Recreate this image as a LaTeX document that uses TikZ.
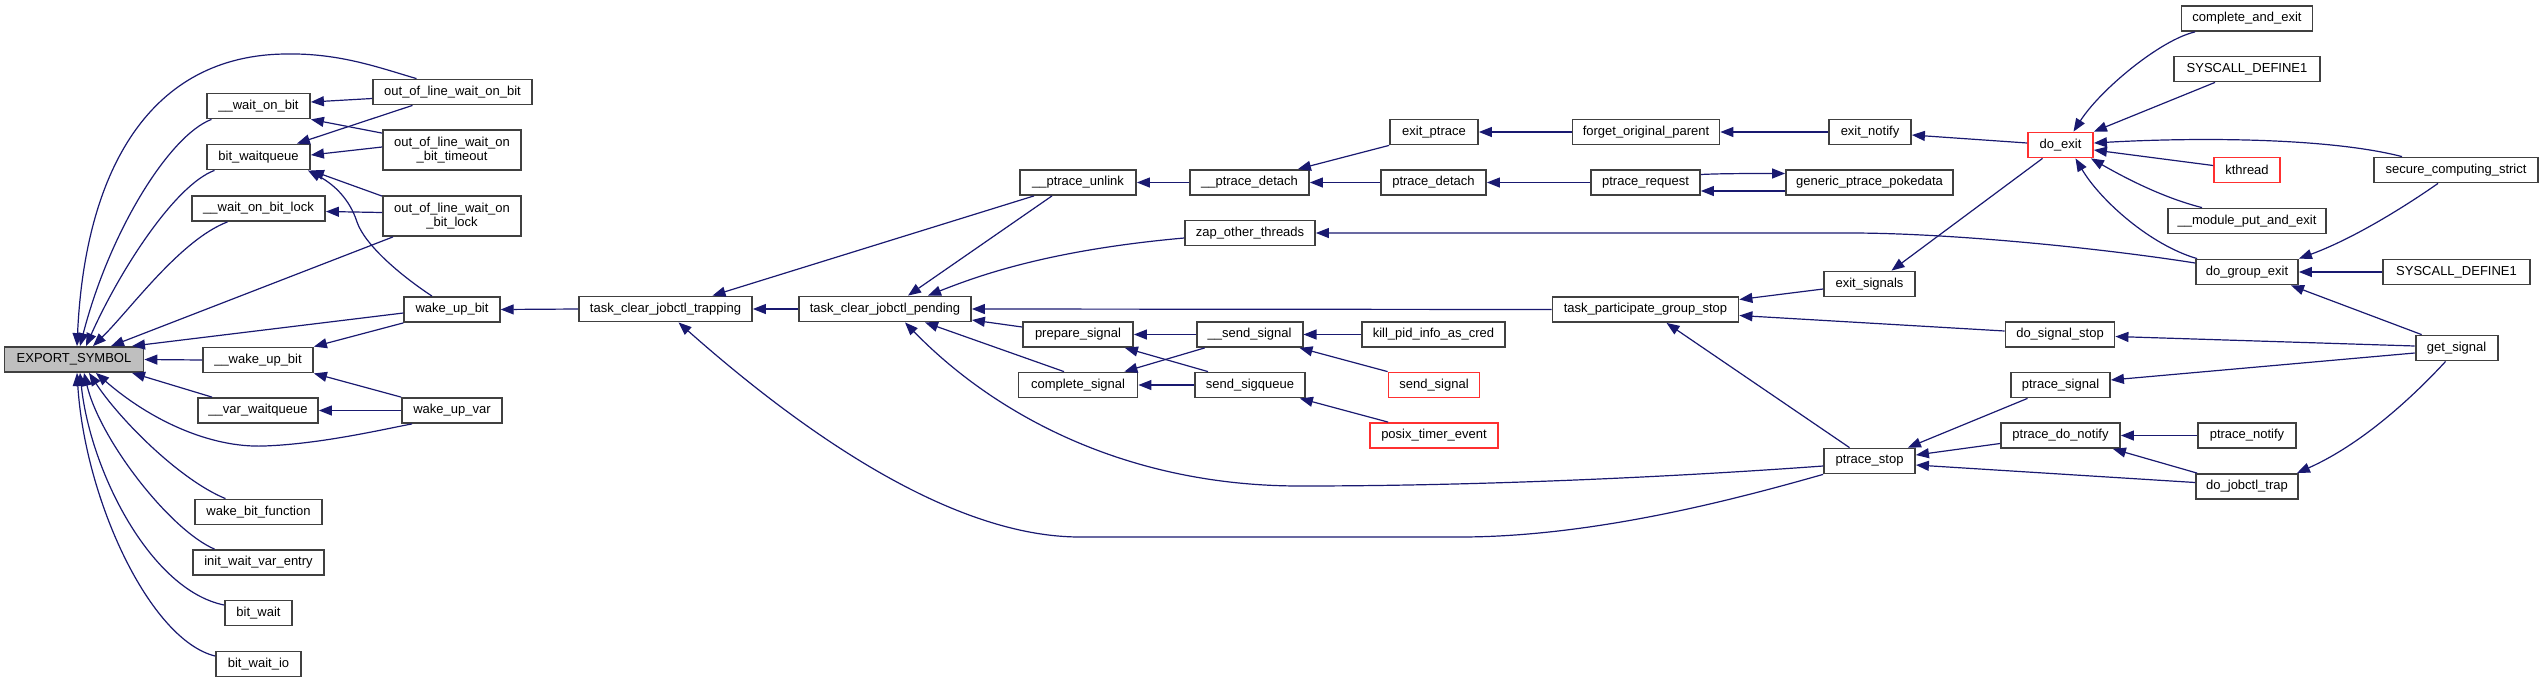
\documentclass[tikz,border=0pt]{standalone}
\usepackage{fontspec}
\setmainfont{Liberation Sans}
\usetikzlibrary{arrows.meta}
\definecolor{edgec}{HTML}{191970}
\definecolor{boxc}{HTML}{404040}
\definecolor{redc}{HTML}{FF3030}
\definecolor{graybox}{HTML}{BFBFBF}
\tikzset{
  box/.style={draw=boxc, line width=1.8pt, fill=white, rectangle, inner sep=0pt,
    minimum height=25pt, font=\fontsize{13pt}{14.5pt}\selectfont, align=center},
  redbox/.style={box, draw=redc},
  edge/.style={draw=edgec, line width=1.2pt, {Triangle[length=13pt,width=10pt]}-},
}
\begin{document}
\begin{tikzpicture}[x=1pt,y=-1pt]
\useasboundingbox (0,0) rectangle (2544,683);
% column 1
\node[box, fill=graybox, minimum width=139pt] (es) at (74,359.5) {EXPORT\_SYMBOL};
% column 2
\node[box, minimum width=103pt] (wob) at (258.5,106) {\_\_wait\_on\_bit};
\node[box, minimum width=103pt] (bwq) at (258.5,157) {bit\_waitqueue};
\node[box, minimum width=133pt] (wobl) at (258.5,208.5) {\_\_wait\_on\_bit\_lock};
\node[box, minimum width=110pt] (wuba) at (258,360) {\_\_wake\_up\_bit};
\node[box, minimum width=120pt] (vwq) at (258,410.5) {\_\_var\_waitqueue};
\node[box, minimum width=127pt] (wbf) at (258.5,512) {wake\_bit\_function};
\node[box, minimum width=131pt] (iwve) at (258.5,562.5) {init\_wait\_var\_entry};
\node[box, minimum width=67pt] (bw) at (258.5,613) {bit\_wait};
\node[box, minimum width=85pt] (bwio) at (258.5,664) {bit\_wait\_io};
% column 3
\node[box, minimum width=159pt] (oob) at (452.5,92) {out\_of\_line\_wait\_on\_bit};
\node[box, minimum width=138pt, minimum height=40pt] (oot) at (452,150) {out\_of\_line\_wait\_on\\\_bit\_timeout};
\node[box, minimum width=138pt, minimum height=40pt] (ool) at (452,216) {out\_of\_line\_wait\_on\\\_bit\_lock};
\node[box, minimum width=95.5pt] (wub) at (452,309.5) {wake\_up\_bit};
\node[box, minimum width=100pt] (wuv) at (452,410.5) {wake\_up\_var};
% column 4-5
\node[box, minimum width=173pt] (tcjt) at (665.5,309) {task\_clear\_jobctl\_trapping};
\node[box, minimum width=172pt] (tcjp) at (885,309) {task\_clear\_jobctl\_pending};
% column 6
\node[box, minimum width=116pt] (pun) at (1078,182.5) {\_\_ptrace\_unlink};
\node[box, minimum width=110pt] (ps) at (1078,334.5) {prepare\_signal};
\node[box, minimum width=119pt] (cs) at (1078,385) {complete\_signal};
% column 7
\node[box, minimum width=119pt] (pdt) at (1249.5,182.5) {\_\_ptrace\_detach};
\node[box, minimum width=130pt] (zot) at (1250,233) {zap\_other\_threads};
\node[box, minimum width=106pt] (ss) at (1249.6,334.5) {\_\_send\_signal};
\node[box, minimum width=110pt] (ssq) at (1250,385) {send\_sigqueue};
% column 8
\node[box, minimum width=88pt] (ept) at (1434,132) {exit\_ptrace};
\node[box, minimum width=105pt] (pd) at (1433.5,182.5) {ptrace\_detach};
\node[box, minimum width=143pt] (kpi) at (1433.5,334.5) {kill\_pid\_info\_as\_cred};
\node[redbox, minimum width=91pt] (snd) at (1434,385) {send\_signal};
\node[redbox, minimum width=128pt] (pte) at (1434,435.5) {posix\_timer\_event};
% column 9
\node[box, minimum width=147pt] (fop) at (1646,132) {forget\_original\_parent};
\node[box, minimum width=109pt] (pr) at (1645.5,182.5) {ptrace\_request};
\node[box, minimum width=186pt] (tpgs) at (1645.5,309.5) {task\_participate\_group\_stop};
% column 10
\node[box, minimum width=82pt] (en) at (1870,132) {exit\_notify};
\node[box, minimum width=167pt] (gpp) at (1869.5,182.5) {generic\_ptrace\_pokedata};
\node[box, minimum width=91pt] (es2) at (1869.5,284) {exit\_signals};
\node[box, minimum width=91pt] (pst) at (1869.5,461) {ptrace\_stop};
% column 11
\node[redbox, minimum width=65pt] (de) at (2060.5,145) {do\_exit};
\node[box, minimum width=109pt] (dss) at (2060,334.5) {do\_signal\_stop};
\node[box, minimum width=99pt] (psg) at (2060.5,385) {ptrace\_signal};
\node[box, minimum width=119pt] (pdn) at (2060.5,435.5) {ptrace\_do\_notify};
% column 12
\node[box, minimum width=131pt] (cae) at (2247,18.5) {complete\_and\_exit};
\node[box, minimum width=146pt] (sd1) at (2247,69) {SYSCALL\_DEFINE1};
\node[redbox, minimum width=66pt] (kt) at (2247,170) {kthread};
\node[box, minimum width=158pt] (mpe) at (2247,221) {\_\_module\_put\_and\_exit};
\node[box, minimum width=102pt] (dge) at (2247,272) {do\_group\_exit};
\node[box, minimum width=97.5pt] (pn) at (2247,435.5) {ptrace\_notify};
\node[box, minimum width=102pt] (djt) at (2247,486.5) {do\_jobctl\_trap};
% column 13
\node[box, minimum width=164pt] (scs) at (2456,170) {secure\_computing\_strict};
\node[box, minimum width=147pt] (sd2) at (2456.5,272) {SYSCALL\_DEFINE1};
\node[box, minimum width=82pt] (gs) at (2456.6,348) {get\_signal};

% ---- edges into EXPORT_SYMBOL
\draw[edge] ([xshift=3pt]es.north) .. controls (85,170) and (150,55) .. (286,54) .. controls (340,53) and (380,68) .. ([xshift=-36pt]oob.north);
\draw[edge] ([xshift=6pt]es.north) .. controls (110,230) and (170,135) .. ([xshift=-47pt]wob.south);
\draw[edge] ([xshift=12pt]es.north) .. controls (120,270) and (175,185) .. ([xshift=-44pt]bwq.south);
\draw[edge] ([xshift=19pt]es.north) .. controls (130,310) and (180,240) .. ([xshift=-31pt]wobl.south);
\draw[edge] ([xshift=37pt]es.north) -- ([xshift=-59pt]ool.south);
\draw[edge] ([xshift=58pt]es.north) -- ([yshift=-3.5pt]wub.west);
\draw[edge] (es.east) -- (wuba.west);
\draw[edge] ([xshift=58pt]es.south) -- ([xshift=-46pt]vwq.north);
\draw[edge] ([xshift=22pt]es.south) .. controls (150,420) and (210,448) .. (264,446) .. controls (320,444) and (380,430) .. ([xshift=-40pt]wuv.south);
\draw[edge] ([xshift=15pt]es.south) .. controls (120,420) and (180,480) .. ([xshift=-33pt]wbf.north);
\draw[edge] ([xshift=10pt]es.south) .. controls (100,440) and (170,530) .. ([xshift=-44pt]iwve.north);
\draw[edge] ([xshift=6pt]es.south) .. controls (90,470) and (150,590) .. ([yshift=8pt]bw.west);
\draw[edge] ([xshift=3pt]es.south) .. controls (85,500) and (150,640) .. ([yshift=8pt]bwio.west);

% ---- column 2 <- column 3
\draw[edge] ([yshift=4pt]wob.east) -- ([yshift=-6.5pt]oob.west);
\draw[edge] (wob.south east) -- ([yshift=-4pt]oot.north west);
\draw[edge] ([xshift=-14pt]bwq.north east) -- ([xshift=-40pt]oob.south);
\draw[edge] ([yshift=2pt]bwq.east) -- ([yshift=3pt]oot.west);
\draw[edge] (bwq.south east) -- ([yshift=-1pt]ool.north west);
\draw[edge] ([xshift=-3pt]bwq.south east) .. controls (335,185) and (350,200) .. (357,222) .. controls (365,245) and (400,275) .. ([xshift=-20pt]wub.north);
\draw[edge] ([yshift=-3pt]wobl.east) -- ([yshift=3.5pt]ool.west);
\draw[edge] (wuba.north east) -- (wub.south west);
\draw[edge] (wuba.south east) -- (wuv.north west);
\draw[edge] (vwq.east) -- (wuv.west);

% ---- wake_up_bit chain
\draw[edge] (wub.east) -- (tcjt.west);
\draw[edge] (tcjt.east) -- (tcjp.west);
\draw[edge] ([xshift=47pt]tcjt.north) -- ([xshift=-44pt]pun.south);
\draw[edge] ([xshift=13pt]tcjt.south) .. controls (800,430) and (950,537) .. (1080,537) -- (1460,537) .. controls (1600,537) and (1750,495) .. (pst.south west);
\draw[edge] ([xshift=23pt]tcjp.north) -- ([xshift=-26pt]pun.south);
\draw[edge] ([xshift=43pt]tcjp.north) .. controls (980,275) and (1050,250) .. ([yshift=-5pt]zot.west);
\draw[edge] (tcjp.east) -- (tpgs.west);
\draw[edge] ([yshift=-11pt]tcjp.east) -- ([yshift=7.5pt]ps.west);
\draw[edge] ([xshift=40pt]tcjp.south) -- ([xshift=-14pt]cs.north);
\draw[edge] ([xshift=20pt]tcjp.south) .. controls (990,410) and (1120,486) .. (1300,486) .. controls (1500,486) and (1700,475) .. ([yshift=-5pt]pst.west);

% ---- ptrace chain
\draw[edge] (pun.east) -- (pdt.west);
\draw[edge] ([xshift=-12pt]pdt.north east) -- (ept.south west);
\draw[edge] (pdt.east) -- (pd.west);
\draw[edge] (ept.east) -- (fop.west);
\draw[edge] (pd.east) -- (pr.west);
\draw[edge] (fop.east) -- (en.west);
\draw[edge] ([yshift=-3pt]en.east) -- ([yshift=2pt]de.west);
\draw[edge] ([yshift=9pt]gpp.west) .. controls (1750,173.5) and (1720,173.5) .. ([yshift=8pt]pr.east);
\draw[edge] ([yshift=-8.5pt]pr.east) .. controls (1730,191) and (1760,191) .. ([yshift=-8.5pt]gpp.west);

% ---- zap / group stop
\draw[edge] (zot.east) -- (1850,233) .. controls (1950,233) and (2100,248) .. ([yshift=9pt]dge.west);
\draw[edge] ([yshift=10pt]tpgs.east) -- ([yshift=-5pt]es2.west);
\draw[edge] ([yshift=-6pt]tpgs.east) -- ([yshift=3.5pt]dss.west);
\draw[edge] ([xshift=21pt]tpgs.south) -- ([xshift=-20pt]pst.north);
\draw[edge] ([xshift=22pt]es2.north) -- ([xshift=-18pt]de.south);

% ---- signals
\draw[edge] (ps.east) -- (ss.west);
\draw[edge] ([xshift=-9pt]ps.south east) -- ([xshift=-42pt]ssq.north);
\draw[edge] ([xshift=-14pt]cs.north east) -- ([xshift=9pt]ss.south west);
\draw[edge] (cs.east) -- (ssq.west);
\draw[edge] (ss.east) -- (kpi.west);
\draw[edge] ([xshift=-4pt]ss.south east) -- (snd.north west);
\draw[edge] ([xshift=-6pt]ssq.south east) -- ([xshift=19pt]pte.north west);

% ---- do_exit
\draw[edge] ([xshift=13pt]de.north) .. controls (2100,90) and (2160,40) .. ([xshift=-52pt]cae.south);
\draw[edge] (de.north east) -- ([xshift=-32pt]sd1.south);
\draw[edge] ([yshift=2pt]de.east) .. controls (2200,137) and (2330,138) .. ([xshift=-54pt]scs.north);
\draw[edge] ([yshift=-5pt]de.east) -- ([yshift=4.5pt]kt.west);
\draw[edge] ([xshift=-3pt]de.south east) .. controls (2120,175) and (2160,197) .. ([xshift=-45pt]mpe.north);
\draw[edge] ([xshift=15pt]de.south) .. controls (2100,200) and (2150,245) .. ([xshift=2pt]dge.north west);

% ---- do_group_exit / get_signal
\draw[edge] (dge.north east) .. controls (2350,240) and (2400,210) .. ([xshift=-18pt]scs.south);
\draw[edge] (dge.east) -- (sd2.west);
\draw[edge] ([xshift=44pt]dge.south) -- ([xshift=-35pt]gs.north);
\draw[edge] ([yshift=-2pt]dss.east) -- ([yshift=2pt]gs.west);
\draw[edge] ([yshift=5pt]psg.east) -- ([yshift=-5pt]gs.west);
\draw[edge] ([xshift=-2pt]djt.north east) .. controls (2360,445) and (2410,400) .. ([xshift=-11pt]gs.south);

% ---- ptrace_stop
\draw[edge] ([xshift=-8pt]pst.north east) -- ([xshift=-33pt]psg.south);
\draw[edge] ([yshift=6pt]pst.east) -- ([yshift=-8pt]pdn.west);
\draw[edge] ([yshift=-4pt]pst.east) -- ([yshift=4pt]djt.west);
\draw[edge] (pdn.east) -- (pn.west);
\draw[edge] ([xshift=-8pt]pdn.south east) -- ([xshift=2pt]djt.north west);
\end{tikzpicture}
\end{document}
